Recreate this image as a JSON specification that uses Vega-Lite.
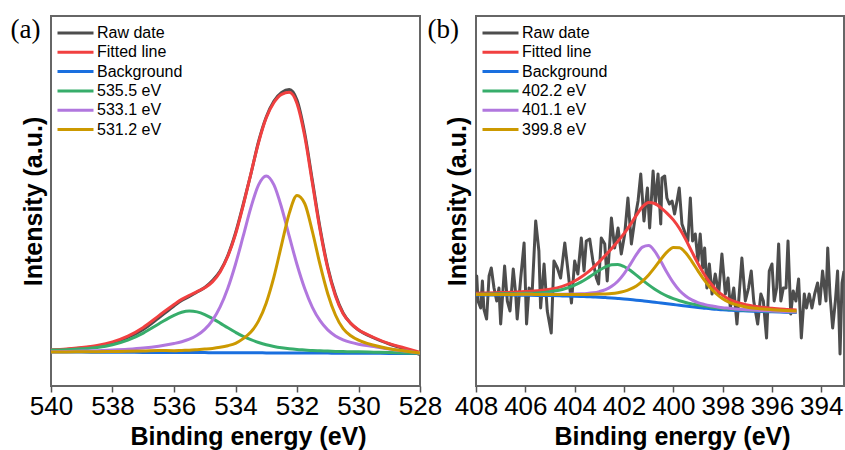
{
  "$schema": "https://vega.github.io/schema/vega-lite/v6.json",
  "padding": {"left": 9, "top": 14, "right": 0, "bottom": 0},
  "autosize": {"type": "pad"},
  "background": "white",
  "spacing": 56,
  "bounds": "flush",
  "config": {
    "font": "Liberation Sans",
    "view": {"stroke": "#666666", "strokeWidth": 2},
    "axis": {"grid": false},
    "legend": {
      "orient": "none", "legendX": 5, "legendY": 9, "title": null,
      "symbolType": "stroke", "symbolSize": 1296, "symbolStrokeWidth": 3,
      "labelFontSize": 16, "labelColor": "black", "labelOffset": 2,
      "rowPadding": 3.3, "clipHeight": 16, "padding": 0, "labelFont": "Liberation Sans"
    }
  },
  "resolve": {"scale": {"color": "independent", "x": "independent", "y": "independent"}, "legend": {"color": "independent"}},
  "hconcat": [
    {
      "width": 369, "height": 370,
      "resolve": {"axis": {"x": "independent"}},
      "layer": [
        {
          "data": {"values": [
            {"e":540,"c_bg":34.0,"d_c1":35.9,"e_c2":34.3,"f_c3":34.1,"b_fit":36.3,"a_raw":35.5},
            {"e":539.5,"c_bg":33.9,"d_c1":36.3,"e_c2":34.5,"f_c3":34.1,"b_fit":37.1,"a_raw":36.5},
            {"e":539,"c_bg":33.9,"d_c1":37.2,"e_c2":34.9,"f_c3":34.2,"b_fit":38.5,"a_raw":38.0},
            {"e":538.5,"c_bg":33.8,"d_c1":38.6,"e_c2":35.3,"f_c3":34.3,"b_fit":40.6,"a_raw":39.5},
            {"e":538,"c_bg":33.75,"d_c1":41.3,"e_c2":35.9,"f_c3":34.5,"b_fit":44.1,"a_raw":43.0},
            {"e":537.5,"c_bg":33.7,"d_c1":45.9,"e_c2":36.7,"f_c3":34.7,"b_fit":49.9,"a_raw":48.5},
            {"e":537,"c_bg":33.6,"d_c1":52.9,"e_c2":37.9,"f_c3":35.0,"b_fit":58.6,"a_raw":56.5},
            {"e":536.5,"c_bg":33.6,"d_c1":62.0,"e_c2":39.8,"f_c3":35.5,"b_fit":70.1,"a_raw":68.0},
            {"e":536,"c_bg":33.5,"d_c1":70.7,"e_c2":42.5,"f_c3":35.3,"b_fit":81.5,"a_raw":80.0},
            {"e":535.75,"c_bg":33.5,"d_c1":73.7,"e_c2":44.3,"f_c3":35.6,"b_fit":86.6,"a_raw":85.5},
            {"e":535.5,"c_bg":33.4,"d_c1":74.9,"e_c2":46.8,"f_c3":35.8,"b_fit":90.7,"a_raw":89.5},
            {"e":535.25,"c_bg":33.4,"d_c1":74.1,"e_c2":50.7,"f_c3":36.3,"b_fit":94.3,"a_raw":94.0},
            {"e":535,"c_bg":33.4,"d_c1":71.5,"e_c2":56.6,"f_c3":36.9,"b_fit":98.2,"a_raw":98.5},
            {"e":534.75,"c_bg":33.3,"d_c1":67.4,"e_c2":65.7,"f_c3":37.6,"b_fit":104.1,"a_raw":105.5},
            {"e":534.5,"c_bg":33.3,"d_c1":62.9,"e_c2":79.1,"f_c3":38.7,"b_fit":114.1,"a_raw":115.0},
            {"e":534.25,"c_bg":33.3,"d_c1":58.2,"e_c2":97.8,"f_c3":40.3,"b_fit":129.7,"a_raw":130.5},
            {"e":534,"c_bg":33.25,"d_c1":53.7,"e_c2":121.8,"f_c3":42.7,"b_fit":151.6,"a_raw":153.0},
            {"e":533.75,"c_bg":33.2,"d_c1":49.6,"e_c2":149.8,"f_c3":47.4,"b_fit":180.4,"a_raw":181.5},
            {"e":533.5,"c_bg":33.2,"d_c1":46.3,"e_c2":178.4,"f_c3":53.9,"b_fit":212.2,"a_raw":212.0},
            {"e":533.25,"c_bg":33.2,"d_c1":43.5,"e_c2":201.2,"f_c3":65.1,"b_fit":243.4,"a_raw":244.5},
            {"e":533,"c_bg":33.1,"d_c1":41.2,"e_c2":210.1,"f_c3":83.1,"b_fit":268.2,"a_raw":269.0},
            {"e":532.75,"c_bg":33.1,"d_c1":39.5,"e_c2":201.1,"f_c3":109.1,"b_fit":283.5,"a_raw":285.0},
            {"e":532.5,"c_bg":33.1,"d_c1":38.2,"e_c2":178.3,"f_c3":141.4,"b_fit":291.7,"a_raw":293.5},
            {"e":532.25,"c_bg":33.0,"d_c1":37.2,"e_c2":149.6,"f_c3":172.9,"b_fit":293.7,"a_raw":296.5},
            {"e":532,"c_bg":33.0,"d_c1":36.5,"e_c2":121.5,"f_c3":190.5,"b_fit":282.5,"a_raw":286.0},
            {"e":531.75,"c_bg":33.0,"d_c1":36.0,"e_c2":97.5,"f_c3":182.5,"b_fit":250.0,"a_raw":253.0},
            {"e":531.5,"c_bg":32.9,"d_c1":35.5,"e_c2":78.7,"f_c3":154.5,"b_fit":202.9,"a_raw":205.5},
            {"e":531.25,"c_bg":32.9,"d_c1":35.2,"e_c2":65.3,"f_c3":121.3,"b_fit":156.0,"a_raw":158.0},
            {"e":531,"c_bg":32.9,"d_c1":34.9,"e_c2":56.1,"f_c3":92.3,"b_fit":117.5,"a_raw":119.0},
            {"e":530.75,"c_bg":32.8,"d_c1":34.6,"e_c2":50.1,"f_c3":71.0,"b_fit":90.1,"a_raw":91.5},
            {"e":530.5,"c_bg":32.8,"d_c1":34.4,"e_c2":46.2,"f_c3":57.3,"b_fit":72.3,"a_raw":73.0},
            {"e":530.25,"c_bg":32.8,"d_c1":34.3,"e_c2":43.6,"f_c3":50.3,"b_fit":62.6,"a_raw":62.5},
            {"e":530,"c_bg":32.75,"d_c1":34.2,"e_c2":41.8,"f_c3":45.8,"b_fit":56.2,"a_raw":56.0},
            {"e":529.5,"c_bg":32.7,"d_c1":33.8,"e_c2":39.4,"f_c3":40.7,"b_fit":48.5,"a_raw":48.0},
            {"e":529,"c_bg":32.6,"d_c1":33.4,"e_c2":36.9,"f_c3":37.2,"b_fit":42.3,"a_raw":42.0},
            {"e":528.5,"c_bg":32.6,"d_c1":33.1,"e_c2":35.1,"f_c3":35.1,"b_fit":38.1,"a_raw":37.0},
            {"e":528,"c_bg":32.5,"d_c1":32.7,"e_c2":33.0,"f_c3":33.0,"b_fit":33.7,"a_raw":31.5}
          ]},
          "transform": [{"fold": ["a_raw","b_fit","c_bg","d_c1","e_c2","f_c3"], "as": ["s","v"]}],
          "mark": {"type": "line", "strokeWidth": 3, "clip": true, "interpolate": "monotone", "strokeJoin": "round"},
          "encoding": {
            "x": {"field": "e", "type": "quantitative", "scale": {"domain": [540, 528], "nice": false, "zero": false},
              "axis": {"values": [540,538,536,534,532,530,528], "format": "d", "tickSize": 6, "tickWidth": 1.5, "tickColor": "#555555", "domain": false,
                "labelFontSize": 26, "labelColor": "black", "labelPadding": 1, "labelFlush": false, "labelOverlap": false,
                "title": "Binding energy (eV)", "titleFontSize": 25, "titleFontWeight": "bold", "titleColor": "black",
                "titleX": 197, "titleY": 58, "titleBaseline": "alphabetic", "titleAlign": "center"}},
            "y": {"field": "v", "type": "quantitative", "scale": {"domain": [0, 370], "nice": false, "zero": false},
              "axis": {"labels": false, "ticks": false, "domain": false, "title": "Intensity (a.u.)", "titleFontSize": 25, "titleFontWeight": "bold", "titleColor": "black",
                "titleX": -10, "titleY": 185, "titleAngle": -90, "titleBaseline": "alphabetic", "titleAlign": "center"}},
            "color": {"field": "s", "type": "nominal",
              "scale": {"domain": ["a_raw","b_fit","c_bg","d_c1","e_c2","f_c3"], "range": ["#4d4d4d","#f14040","#1a6fdf","#37ad6b","#b177de","#cc9900"]},
              "legend": {"labelExpr": "datum.label == 'a_raw' ? 'Raw date' : datum.label == 'b_fit' ? 'Fitted line' : datum.label == 'c_bg' ? 'Background' : datum.label == 'd_c1' ? '535.5 eV' : datum.label == 'e_c2' ? '533.1 eV' : '531.2 eV'"}}
          }
        },
        {
          "data": {"values": []},
          "mark": {"type": "rule"},
          "encoding": {
            "x": {"field": "e", "type": "quantitative",
              "axis": {"orient": "top", "labels": false, "ticks": false, "domain": false, "grid": false,
                "title": "(a)", "titleFont": "Liberation Serif", "titleFontSize": 27, "titleFontWeight": "normal", "titleColor": "black",
                "titleX": -41, "titleY": 21, "titleBaseline": "alphabetic", "titleAlign": "left", "titleAngle": 0}}
          }
        }
      ]
    },
    {
      "width": 368, "height": 370,
      "resolve": {"axis": {"x": "independent"}},
      "layer": [
        {
          "data": {"values": [
            {"e":408.0,"v":95},{"e":407.97,"v":110},{"e":407.92,"v":85},{"e":407.81,"v":78},{"e":407.74,"v":105},{"e":407.68,"v":77},
            {"e":407.57,"v":67},{"e":407.47,"v":110},{"e":407.38,"v":118},{"e":407.27,"v":98},{"e":407.16,"v":85},{"e":407.07,"v":98},
            {"e":407.0,"v":62},{"e":406.84,"v":120},{"e":406.73,"v":85},{"e":406.62,"v":75},{"e":406.49,"v":117},{"e":406.39,"v":92},
            {"e":406.33,"v":67},{"e":406.19,"v":107},{"e":406.05,"v":143},{"e":405.95,"v":62},{"e":405.85,"v":98},{"e":405.72,"v":95},
            {"e":405.58,"v":165},{"e":405.45,"v":135},{"e":405.38,"v":78},{"e":405.24,"v":122},{"e":405.11,"v":75},{"e":404.95,"v":53},
            {"e":404.84,"v":125},{"e":404.7,"v":118},{"e":404.57,"v":108},{"e":404.4,"v":143},{"e":404.27,"v":115},{"e":404.13,"v":83},
            {"e":404.0,"v":125},{"e":403.87,"v":112},{"e":403.73,"v":148},{"e":403.62,"v":115},{"e":403.53,"v":145},{"e":403.39,"v":147},
            {"e":403.26,"v":125},{"e":403.12,"v":108},{"e":403.03,"v":102},{"e":402.92,"v":148},{"e":402.78,"v":142},{"e":402.68,"v":105},
            {"e":402.51,"v":168},{"e":402.38,"v":138},{"e":402.24,"v":158},{"e":402.11,"v":132},{"e":401.97,"v":152},{"e":401.84,"v":188},
            {"e":401.7,"v":142},{"e":401.57,"v":165},{"e":401.43,"v":185},{"e":401.32,"v":212},{"e":401.19,"v":165},{"e":401.05,"v":198},
            {"e":400.96,"v":158},{"e":400.82,"v":215},{"e":400.73,"v":182},{"e":400.62,"v":212},{"e":400.51,"v":162},{"e":400.46,"v":208},
            {"e":400.35,"v":210},{"e":400.26,"v":188},{"e":400.16,"v":182},{"e":400.05,"v":185},{"e":399.95,"v":172},{"e":399.85,"v":185},
            {"e":399.76,"v":198},{"e":399.65,"v":162},{"e":399.51,"v":152},{"e":399.41,"v":145},{"e":399.31,"v":188},{"e":399.22,"v":145},
            {"e":399.11,"v":152},{"e":399.0,"v":125},{"e":398.91,"v":152},{"e":398.81,"v":118},{"e":398.73,"v":138},{"e":398.64,"v":98},
            {"e":398.54,"v":122},{"e":398.43,"v":92},{"e":398.3,"v":112},{"e":398.16,"v":92},{"e":398.03,"v":132},{"e":397.89,"v":92},
            {"e":397.78,"v":108},{"e":397.69,"v":78},{"e":397.55,"v":98},{"e":397.42,"v":62},{"e":397.22,"v":128},{"e":397.08,"v":85},
            {"e":396.95,"v":98},{"e":396.84,"v":115},{"e":396.74,"v":85},{"e":396.58,"v":62},{"e":396.45,"v":92},{"e":396.35,"v":85},
            {"e":396.22,"v":48},{"e":396.11,"v":115},{"e":396.0,"v":122},{"e":395.91,"v":85},{"e":395.81,"v":98},{"e":395.73,"v":142},
            {"e":395.64,"v":85},{"e":395.54,"v":98},{"e":395.43,"v":98},{"e":395.35,"v":145},{"e":395.24,"v":72},{"e":395.14,"v":95},
            {"e":395.03,"v":85},{"e":394.92,"v":107},{"e":394.81,"v":48},{"e":394.69,"v":92},{"e":394.6,"v":78},{"e":394.49,"v":92},
            {"e":394.38,"v":78},{"e":394.27,"v":92},{"e":394.15,"v":103},{"e":394.06,"v":82},{"e":393.95,"v":115},{"e":393.81,"v":85},
            {"e":393.74,"v":138},{"e":393.65,"v":92},{"e":393.54,"v":58},{"e":393.43,"v":85},{"e":393.34,"v":115},{"e":393.24,"v":32},
            {"e":393.16,"v":103},{"e":393.08,"v":115}
          ]},
          "mark": {"type": "line", "strokeWidth": 3, "clip": true, "strokeJoin": "round"},
          "encoding": {
            "x": {"field": "e", "type": "quantitative", "scale": {"domain": [408, 393.08], "nice": false, "zero": false},
              "axis": {"values": [408,406,404,402,400,398,396,394], "format": "d", "tickSize": 6, "tickWidth": 1.5, "tickColor": "#555555", "domain": false,
                "labelFontSize": 26, "labelColor": "black", "labelPadding": 1, "labelFlush": false, "labelOverlap": false,
                "title": "Binding energy (eV)", "titleFontSize": 25, "titleFontWeight": "bold", "titleColor": "black",
                "titleX": 196, "titleY": 58, "titleBaseline": "alphabetic", "titleAlign": "center"}},
            "y": {"field": "v", "type": "quantitative", "scale": {"domain": [0, 370], "nice": false, "zero": false},
              "axis": {"labels": false, "ticks": false, "domain": false, "title": "Intensity (a.u.)", "titleFontSize": 25, "titleFontWeight": "bold", "titleColor": "black",
                "titleX": -11, "titleY": 185, "titleAngle": -90, "titleBaseline": "alphabetic", "titleAlign": "center"}},
            "color": {"datum": "a_raw", "type": "nominal",
              "scale": {"domain": ["a_raw","b_fit","c_bg","d_c1","e_c2","f_c3"], "range": ["#4d4d4d","#f14040","#1a6fdf","#37ad6b","#b177de","#cc9900"]},
              "legend": {"labelExpr": "datum.label == 'a_raw' ? 'Raw date' : datum.label == 'b_fit' ? 'Fitted line' : datum.label == 'c_bg' ? 'Background' : datum.label == 'd_c1' ? '402.2 eV' : datum.label == 'e_c2' ? '401.1 eV' : '399.8 eV'"}}
          }
        },
        {
          "data": {"values": [
            {"e":408,"c_bg":91.0,"d_c1":91.8,"e_c2":91.4,"f_c3":91.5,"b_fit":92.8},
            {"e":407.5,"c_bg":91.0,"d_c1":92.0,"e_c2":91.5,"f_c3":91.6,"b_fit":93.0},
            {"e":407,"c_bg":91.0,"d_c1":92.2,"e_c2":91.6,"f_c3":91.6,"b_fit":93.4},
            {"e":406.5,"c_bg":90.9,"d_c1":92.3,"e_c2":91.6,"f_c3":91.6,"b_fit":93.8},
            {"e":406,"c_bg":90.8,"d_c1":92.7,"e_c2":91.7,"f_c3":91.7,"b_fit":94.4},
            {"e":405.5,"c_bg":90.6,"d_c1":93.1,"e_c2":91.6,"f_c3":91.6,"b_fit":95.2},
            {"e":405,"c_bg":90.4,"d_c1":94.3,"e_c2":91.7,"f_c3":91.6,"b_fit":96.8},
            {"e":404.5,"c_bg":90.1,"d_c1":96.5,"e_c2":91.8,"f_c3":91.6,"b_fit":99.7},
            {"e":404,"c_bg":89.8,"d_c1":100.9,"e_c2":92.1,"f_c3":91.6,"b_fit":105.0},
            {"e":403.75,"c_bg":89.55,"d_c1":103.9,"e_c2":92.3,"f_c3":91.6,"b_fit":108.7},
            {"e":403.5,"c_bg":89.3,"d_c1":107.5,"e_c2":92.6,"f_c3":91.6,"b_fit":113.1},
            {"e":403.25,"c_bg":89.05,"d_c1":111.6,"e_c2":93.2,"f_c3":91.7,"b_fit":118.4},
            {"e":403,"c_bg":88.8,"d_c1":115.7,"e_c2":94.4,"f_c3":91.9,"b_fit":124.4},
            {"e":402.75,"c_bg":88.4,"d_c1":119.1,"e_c2":96.3,"f_c3":92.1,"b_fit":130.7},
            {"e":402.5,"c_bg":88.0,"d_c1":121.3,"e_c2":99.7,"f_c3":92.5,"b_fit":137.5},
            {"e":402.25,"c_bg":87.5,"d_c1":121.5,"e_c2":104.8,"f_c3":93.3,"b_fit":144.6},
            {"e":402,"c_bg":87.0,"d_c1":119.5,"e_c2":112.2,"f_c3":94.6,"b_fit":152.3},
            {"e":401.75,"c_bg":86.4,"d_c1":115.7,"e_c2":121.4,"f_c3":96.8,"b_fit":161.1},
            {"e":401.5,"c_bg":85.8,"d_c1":110.9,"e_c2":131.3,"f_c3":100.1,"b_fit":170.7},
            {"e":401.25,"c_bg":85.15,"d_c1":105.9,"e_c2":138.8,"f_c3":104.9,"b_fit":179.2},
            {"e":401,"c_bg":84.5,"d_c1":101.1,"e_c2":140.4,"f_c3":111.1,"b_fit":183.6},
            {"e":400.75,"c_bg":83.75,"d_c1":96.7,"e_c2":134.6,"f_c3":118.6,"b_fit":182.5},
            {"e":400.5,"c_bg":83.0,"d_c1":93.0,"e_c2":124.4,"f_c3":126.8,"b_fit":178.1},
            {"e":400.25,"c_bg":82.25,"d_c1":89.8,"e_c2":113.2,"f_c3":134.1,"b_fit":172.6},
            {"e":400,"c_bg":81.5,"d_c1":87.3,"e_c2":103.3,"f_c3":138.6,"b_fit":166.1},
            {"e":399.75,"c_bg":80.7,"d_c1":85.2,"e_c2":95.5,"f_c3":138.3,"b_fit":157.5},
            {"e":399.5,"c_bg":80.0,"d_c1":83.5,"e_c2":90.0,"f_c3":133.2,"b_fit":146.6},
            {"e":399.25,"c_bg":79.25,"d_c1":82.1,"e_c2":86.1,"f_c3":124.7,"b_fit":134.4},
            {"e":399,"c_bg":78.5,"d_c1":80.9,"e_c2":83.4,"f_c3":115.2,"b_fit":122.5},
            {"e":398.75,"c_bg":77.85,"d_c1":79.9,"e_c2":81.6,"f_c3":106.1,"b_fit":111.8},
            {"e":398.5,"c_bg":77.2,"d_c1":79.0,"e_c2":80.2,"f_c3":98.2,"b_fit":103.0},
            {"e":398.25,"c_bg":76.7,"d_c1":78.3,"e_c2":79.2,"f_c3":92.0,"b_fit":96.0},
            {"e":398,"c_bg":76.2,"d_c1":77.6,"e_c2":78.3,"f_c3":87.2,"b_fit":90.8},
            {"e":397.75,"c_bg":75.85,"d_c1":77.1,"e_c2":77.7,"f_c3":83.9,"b_fit":87.0},
            {"e":397.5,"c_bg":75.5,"d_c1":76.6,"e_c2":77.1,"f_c3":81.6,"b_fit":84.3},
            {"e":397,"c_bg":75.0,"d_c1":75.9,"e_c2":76.3,"f_c3":78.8,"b_fit":81.0},
            {"e":396.5,"c_bg":74.5,"d_c1":75.3,"e_c2":75.5,"f_c3":77.3,"b_fit":79.0},
            {"e":396,"c_bg":74.2,"d_c1":74.9,"e_c2":75.0,"f_c3":76.3,"b_fit":77.8},
            {"e":395.5,"c_bg":73.8,"d_c1":74.4,"e_c2":74.5,"f_c3":75.5,"b_fit":76.7},
            {"e":395,"c_bg":73.5,"d_c1":74.0,"e_c2":74.1,"f_c3":74.9,"b_fit":75.9}
          ]},
          "transform": [{"fold": ["b_fit","c_bg","d_c1","e_c2","f_c3"], "as": ["s","v"]}],
          "mark": {"type": "line", "strokeWidth": 3, "clip": true, "interpolate": "monotone", "strokeJoin": "round"},
          "encoding": {
            "x": {"field": "e", "type": "quantitative", "axis": null},
            "y": {"field": "v", "type": "quantitative"},
            "color": {"field": "s", "type": "nominal"}
          }
        },
        {
          "data": {"values": []},
          "mark": {"type": "rule"},
          "encoding": {
            "x": {"field": "e", "type": "quantitative",
              "axis": {"orient": "top", "labels": false, "ticks": false, "domain": false, "grid": false,
                "title": "(b)", "titleFont": "Liberation Serif", "titleFontSize": 27, "titleFontWeight": "normal", "titleColor": "black",
                "titleX": -49, "titleY": 21, "titleBaseline": "alphabetic", "titleAlign": "left", "titleAngle": 0}}
          }
        }
      ]
    }
  ]
}
